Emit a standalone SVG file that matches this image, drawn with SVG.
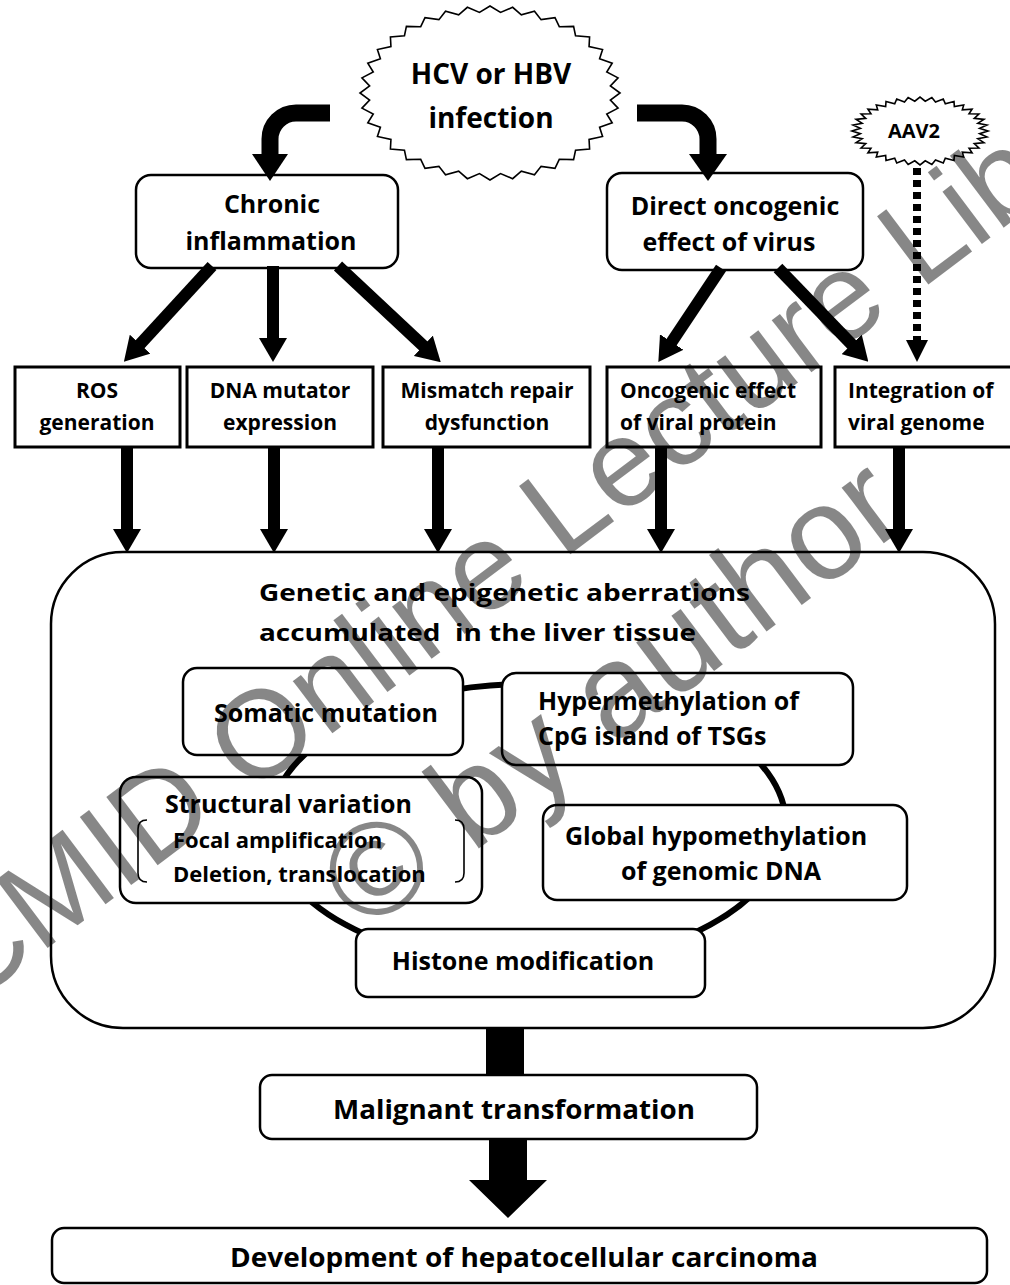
<svg xmlns="http://www.w3.org/2000/svg" xmlns:xlink="http://www.w3.org/1999/xlink" width="1010" height="1285" viewBox="0 0 1010 1285">
  <style>
    .t { font-family: "Open Sans", "Liberation Sans", sans-serif; font-weight: 700; fill: #000; }
    .box { fill: #fff; stroke: #000; stroke-width: 2.5; }
    .sq { fill: #fff; stroke: #000; stroke-width: 3; }
    .star { fill: #fff; stroke: #000; stroke-width: 1.6; vector-effect: non-scaling-stroke; stroke-linejoin: miter; }
    .arr { stroke: #000; stroke-width: 12; fill: none; }
    .bend { stroke: #000; stroke-width: 17; fill: none; }
    .wm { font-family: "Liberation Sans", Arial, sans-serif; fill: #000; fill-opacity: 0.47; }
  </style>
  <defs>
    <marker id="head" markerUnits="userSpaceOnUse" viewBox="0 0 24 28" markerWidth="24" markerHeight="28" refX="12" refY="14" orient="auto">
      <path d="M0,0 L24,14 L0,28 Z" fill="#000"/>
    </marker>
  </defs>

  <rect width="1010" height="1285" fill="#fff"/>

  <!-- virus bursts -->
  <g id="hcv-hbv">
    <g transform="translate(490,93) scale(1.3,0.87)">
      <polygon class="star" points="100,0 92.6,-8.1 98.5,-17.4 89.8,-24.1 94,-34.2 84.3,-39.3 86.6,-50 76.2,-53.3 76.6,-64.3 65.8,-65.8 64.3,-76.6 53.3,-76.2 50,-86.6 39.3,-84.3 34.2,-94 24.1,-89.8 17.4,-98.5 8.1,-92.6 0,-100 -8.1,-92.6 -17.4,-98.5 -24.1,-89.8 -34.2,-94 -39.3,-84.3 -50,-86.6 -53.3,-76.2 -64.3,-76.6 -65.8,-65.8 -76.6,-64.3 -76.2,-53.3 -86.6,-50 -84.3,-39.3 -94,-34.2 -89.8,-24.1 -98.5,-17.4 -92.6,-8.1 -100,0 -92.6,8.1 -98.5,17.4 -89.8,24.1 -94,34.2 -84.3,39.3 -86.6,50 -76.2,53.3 -76.6,64.3 -65.8,65.8 -64.3,76.6 -53.3,76.2 -50,86.6 -39.3,84.3 -34.2,94 -24.1,89.8 -17.4,98.5 -8.1,92.6 0,100 8.1,92.6 17.4,98.5 24.1,89.8 34.2,94 39.3,84.3 50,86.6 53.3,76.2 64.3,76.6 65.8,65.8 76.6,64.3 76.2,53.3 86.6,50 84.3,39.3 94,34.2 89.8,24.1 98.5,17.4 92.6,8.1"/>
    </g>
    <text class="t" x="491" y="84" font-size="28" text-anchor="middle">HCV or HBV</text>
    <text class="t" x="491" y="128" font-size="28" text-anchor="middle">infection</text>
  </g>

  <g id="aav2">
    <g transform="translate(920,131) scale(0.68,0.34)">
      <polygon class="star" points="100,0 87.7,-7.7 98.5,-17.4 85,-22.8 94,-34.2 79.8,-37.2 86.6,-50 72.1,-50.5 76.6,-64.3 62.2,-62.2 64.3,-76.6 50.5,-72.1 50,-86.6 37.2,-79.8 34.2,-94 22.8,-85 17.4,-98.5 7.7,-87.7 0,-100 -7.7,-87.7 -17.4,-98.5 -22.8,-85 -34.2,-94 -37.2,-79.8 -50,-86.6 -50.5,-72.1 -64.3,-76.6 -62.2,-62.2 -76.6,-64.3 -72.1,-50.5 -86.6,-50 -79.8,-37.2 -94,-34.2 -85,-22.8 -98.5,-17.4 -87.7,-7.7 -100,0 -87.7,7.7 -98.5,17.4 -85,22.8 -94,34.2 -79.8,37.2 -86.6,50 -72.1,50.5 -76.6,64.3 -62.2,62.2 -64.3,76.6 -50.5,72.1 -50,86.6 -37.2,79.8 -34.2,94 -22.8,85 -17.4,98.5 -7.7,87.7 0,100 7.7,87.7 17.4,98.5 22.8,85 34.2,94 37.2,79.8 50,86.6 50.5,72.1 64.3,76.6 62.2,62.2 76.6,64.3 72.1,50.5 86.6,50 79.8,37.2 94,34.2 85,22.8 98.5,17.4 87.7,7.7"/>
    </g>
    <text class="t" x="914" y="138" font-size="20" text-anchor="middle">AAV2</text>
  </g>

  <!-- second tier -->
  <g id="chronic">
    <rect class="box" x="136" y="175" width="262" height="93" rx="15"/>
    <text class="t" x="272" y="213" font-size="25" text-anchor="middle">Chronic</text>
    <text class="t" x="271" y="250" font-size="25" text-anchor="middle">inflammation</text>
  </g>
  <g id="direct">
    <rect class="box" x="607" y="173" width="256" height="97" rx="15"/>
    <text class="t" x="735" y="215" font-size="25" text-anchor="middle">Direct oncogenic</text>
    <text class="t" x="729" y="251" font-size="25" text-anchor="middle">effect of virus</text>
  </g>

  <!-- third tier -->
  <g id="ros">
    <rect class="sq" x="15" y="367" width="165" height="80"/>
    <text class="t" x="97" y="398" font-size="21" text-anchor="middle">ROS</text>
    <text class="t" x="97" y="430" font-size="21" text-anchor="middle">generation</text>
  </g>
  <g id="mutator">
    <rect class="sq" x="187" y="367" width="186" height="80"/>
    <text class="t" x="280" y="398" font-size="21" text-anchor="middle">DNA mutator</text>
    <text class="t" x="280" y="430" font-size="21" text-anchor="middle">expression</text>
  </g>
  <g id="mismatch">
    <rect class="sq" x="383" y="367" width="207" height="80"/>
    <text class="t" x="487" y="398" font-size="21" text-anchor="middle">Mismatch repair</text>
    <text class="t" x="487" y="430" font-size="21" text-anchor="middle">dysfunction</text>
  </g>
  <g id="viral-protein">
    <rect class="sq" x="607" y="367" width="214" height="80"/>
    <text class="t" x="620" y="398" font-size="21">Oncogenic effect</text>
    <text class="t" x="620" y="430" font-size="21">of viral protein</text>
  </g>
  <g id="integration">
    <rect class="sq" x="835" y="367" width="180" height="80"/>
    <text class="t" x="848" y="398" font-size="21">Integration of</text>
    <text class="t" x="848" y="430" font-size="21">viral genome</text>
  </g>

  <!-- accumulated aberrations -->
  <g id="aberrations">
    <rect class="box" x="51" y="552" width="944" height="476" rx="72"/>
    <text class="t" x="259" y="601" font-size="24" textLength="491" lengthAdjust="spacingAndGlyphs">Genetic and epigenetic aberrations</text>
    <text class="t" x="259" y="641" font-size="24" textLength="437" lengthAdjust="spacingAndGlyphs" xml:space="preserve">accumulated  in the liver tissue</text>
  </g>

  <!-- connectors -->
  <g id="connectors">
    <path class="bend" d="M330,113 H296 A26,26 0 0 0 270,139 V156"/>
    <polygon points="252,154 288,154 270,181" fill="#000"/>
    <path class="bend" d="M637,113 H682 A26,26 0 0 1 708,139 V156"/>
    <polygon points="689,154 727,154 708,181" fill="#000"/>

    <line class="arr" x1="212" y1="266" x2="132" y2="353" marker-end="url(#head)"/>
    <line class="arr" x1="273" y1="266" x2="273" y2="350" marker-end="url(#head)"/>
    <line class="arr" x1="338" y1="266" x2="432" y2="354" marker-end="url(#head)"/>
    <line class="arr" x1="721" y1="268" x2="665" y2="352" marker-end="url(#head)"/>
    <line class="arr" x1="778" y1="268" x2="860" y2="353" marker-end="url(#head)"/>

    <line x1="917" y1="168" x2="917" y2="342" stroke="#000" stroke-width="8" stroke-dasharray="7 5"/>
    <polygon points="906,340 928,340 917,362" fill="#000"/>

    <line class="arr" x1="127" y1="447" x2="127" y2="541" marker-end="url(#head)"/>
    <line class="arr" x1="274" y1="447" x2="274" y2="541" marker-end="url(#head)"/>
    <line class="arr" x1="438" y1="447" x2="438" y2="541" marker-end="url(#head)"/>
    <line class="arr" x1="661" y1="447" x2="661" y2="541" marker-end="url(#head)"/>
    <line class="arr" x1="899" y1="447" x2="899" y2="541" marker-end="url(#head)"/>

    <ellipse cx="528" cy="825" rx="258" ry="141" fill="none" stroke="#000" stroke-width="6"/>

    <rect x="486" y="1028" width="38" height="48" fill="#000"/>
    <polygon points="489,1139 527,1139 527,1180 547,1180 508,1218 469,1180 489,1180" fill="#000"/>
  </g>

  <!-- inner aberration types -->
  <g id="somatic">
    <rect class="box" x="183" y="668" width="280" height="87" rx="14"/>
    <text class="t" x="326" y="722" font-size="25" text-anchor="middle">Somatic mutation</text>
  </g>
  <g id="hypermethylation">
    <rect class="box" x="502" y="673" width="351" height="92" rx="14"/>
    <text class="t" x="538" y="710" font-size="25">Hypermethylation of</text>
    <text class="t" x="538" y="745" font-size="25">CpG island of TSGs</text>
  </g>
  <g id="structural">
    <rect class="box" x="120" y="777" width="362" height="126" rx="16"/>
    <text class="t" x="165" y="813" font-size="25">Structural variation</text>
    <path d="M147,820 Q138,820 138,829 V873 Q138,882 147,882" fill="none" stroke="#000" stroke-width="1.6"/>
    <path d="M455,820 Q464,820 464,829 V873 Q464,882 455,882" fill="none" stroke="#000" stroke-width="1.6"/>
    <text class="t" x="173" y="848" font-size="22">Focal amplification</text>
    <text class="t" x="173" y="882" font-size="22">Deletion, translocation</text>
  </g>
  <g id="hypomethylation">
    <rect class="box" x="543" y="805" width="364" height="95" rx="14"/>
    <text class="t" x="716" y="845" font-size="25" text-anchor="middle">Global hypomethylation</text>
    <text class="t" x="721" y="880" font-size="25" text-anchor="middle">of genomic DNA</text>
  </g>
  <g id="histone">
    <rect class="box" x="356" y="929" width="349" height="68" rx="12"/>
    <text class="t" x="523" y="970" font-size="25" text-anchor="middle">Histone modification</text>
  </g>

  <!-- outcome -->
  <g id="malignant">
    <rect class="box" x="260" y="1075" width="497" height="64" rx="12"/>
    <text class="t" x="514" y="1119" font-size="27" text-anchor="middle" textLength="362" lengthAdjust="spacingAndGlyphs">Malignant transformation</text>
  </g>
  <g id="hcc">
    <rect class="box" x="52" y="1228" width="935" height="55" rx="12"/>
    <text class="t" x="524" y="1267" font-size="27" text-anchor="middle" textLength="588" lengthAdjust="spacingAndGlyphs">Development of hepatocellular carcinoma</text>
  </g>

  <!-- watermark -->
  <g id="watermark">
    <text class="wm" font-size="124" transform="translate(-32,1008) rotate(-37)">CMID Online Lecture Library</text>
    <text class="wm" font-size="132" transform="translate(365,934) rotate(-37)">© by author</text>
  </g>
</svg>
